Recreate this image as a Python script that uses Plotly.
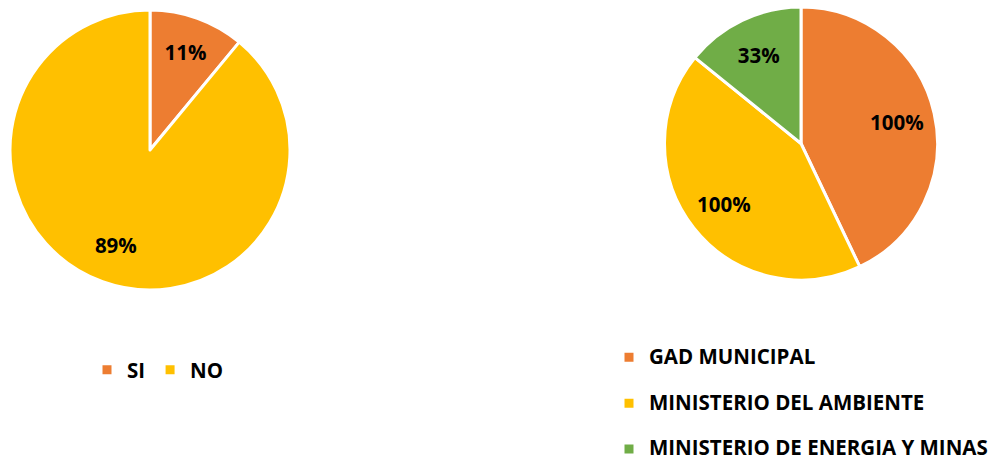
import plotly.graph_objects as go

# Left chart
left_labels = ["SI", "NO"]
left_values = [11, 89]

# Right chart
right_labels = ["GAD MUNICIPAL", "MINISTERIO DEL AMBIENTE", "MINISTERIO DE ENERGIA Y MINAS"]
right_values = [100, 100, 33]

left_colors = ["#ED7D31", "#FFC000"]
right_colors = ["#ED7D31", "#FFC000", "#70AD47"]

W, H = 990, 462
FONT = "Open Sans"
TEXT_HOLE = 0.44
TXT = 20.5

def dom_x(a, b):
    return [a / W, b / W]

def dom_y(top, bottom):
    return [1 - bottom / H, 1 - top / H]

left_dom = dict(x=dom_x(10, 290), y=dom_y(10, 290))
right_dom = dict(x=dom_x(664, 938), y=dom_y(7, 280))
# extra blank line gives the wide row spacing of the original legend
right_legend_labels = [
    f"<span style='font-size:{TXT}px'>{l}</span>" + ("<br> " if i < len(right_labels) - 1 else "")
    for i, l in enumerate(right_labels)
]

fig = go.Figure()

# filled pies (no text)
fig.add_trace(go.Pie(
    labels=left_labels, values=left_values,
    textinfo="none", sort=False, direction="clockwise", rotation=0,
    marker=dict(colors=left_colors, line=dict(color="white", width=3)),
    domain=left_dom, legend="legend", hoverinfo="label+percent",
))
fig.add_trace(go.Pie(
    labels=right_legend_labels, values=right_values,
    textinfo="none", sort=False, direction="clockwise", rotation=0,
    marker=dict(colors=right_colors, line=dict(color="white", width=3)),
    domain=right_dom, legend="legend2", hoverinfo="label+value",
))

# transparent ring overlays that carry the data labels
for labels, values, dom, leg in [
    (left_labels, left_values, left_dom, "legend"),
    (right_legend_labels, right_values, right_dom, "legend2"),
]:
    fig.add_trace(go.Pie(
        labels=labels, values=values,
        text=[f"{v}%" for v in values], textinfo="text",
        textposition="inside", insidetextorientation="horizontal",
        textfont=dict(family=FONT, size=TXT, color="black", weight="bold"),
        sort=False, direction="clockwise", rotation=0, hole=TEXT_HOLE,
        marker=dict(colors=["rgba(0,0,0,0)"] * len(values), line=dict(width=0)),
        domain=dom, legend=leg, showlegend=False, hoverinfo="skip",
    ))

fig.update_layout(
    width=W, height=H,
    margin=dict(l=0, r=0, t=0, b=0, autoexpand=False),
    paper_bgcolor="white",
    plot_bgcolor="white",
    font=dict(family=FONT, color="black"),
    legend=dict(
        orientation="h",
        x=87 / W, xanchor="left",
        y=1 - 370 / H, yanchor="middle",
        font=dict(family=FONT, size=TXT, color="black", weight="bold"),
        itemwidth=30,
        bgcolor="rgba(0,0,0,0)",
    ),
    legend2=dict(
        orientation="v",
        x=609 / W, xanchor="left",
        y=1 - 340 / H, yanchor="top",
        font=dict(family=FONT, size=16.5, color="black", weight="bold"),
        itemwidth=30,
        valign="top",
        bgcolor="rgba(0,0,0,0)",
    ),
)

fig.write_html("out.html", config={"displayModeBar": False},
               post_script="document.body.style.margin='0';")
